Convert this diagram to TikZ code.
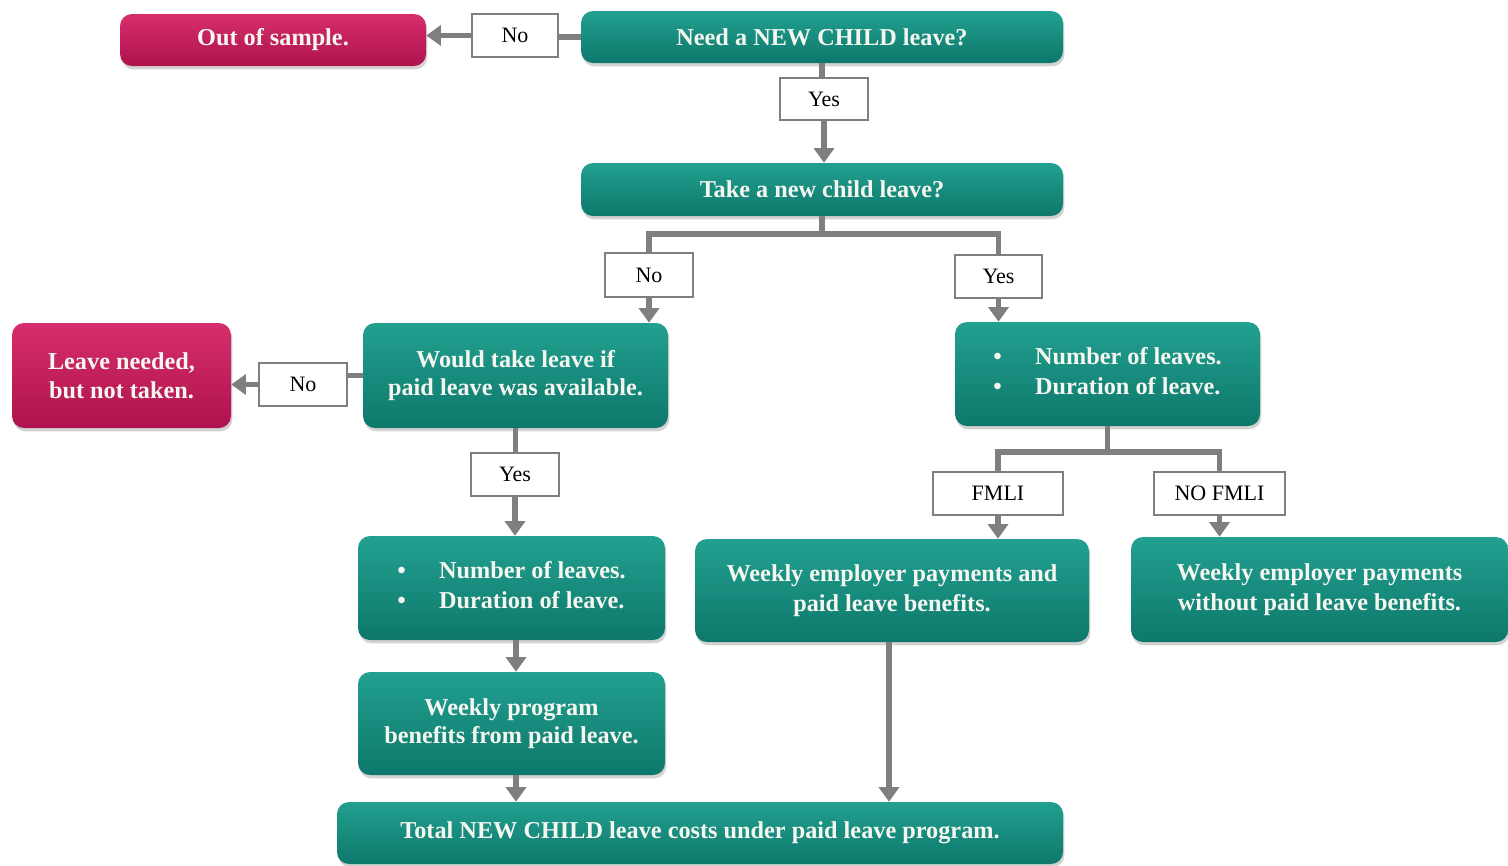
\documentclass[tikz,border=0pt]{standalone}
\usepackage{fontspec}
\setmainfont{Liberation Serif}
\usetikzlibrary{arrows.meta,shadows}
\definecolor{tealL}{HTML}{22A090}
\definecolor{tealD}{HTML}{0D786B}
\definecolor{magL}{HTML}{D62E6C}
\definecolor{magD}{HTML}{AE124C}
\definecolor{conncol}{HTML}{7F7F7F}
\definecolor{txtw}{HTML}{F6F6F0}
\tikzset{
  box/.style={rounded corners=9pt, top color=tealL, bottom color=tealD, text=txtw,
    font=\bfseries\fontsize{18.2}{21.5}\selectfont, align=center, inner sep=0pt,
    drop shadow={opacity=0.35, shadow xshift=1pt, shadow yshift=-2.5pt}},
  mbox/.style={box, top color=magL, bottom color=magD},
  lbl/.style={draw=conncol, line width=1.3pt, fill=white, font=\fontsize{16.5}{20}\selectfont, inner sep=0pt},
  conn/.style={draw=conncol, line width=4pt},
  arr/.style={conn, -{Triangle[width=15pt,length=11pt]}},
}
\newcommand{\twobullets}{\begin{tabular}{@{}l@{\hspace{25pt}}l@{}}\textbullet & Number of leaves.\\[1pt] \textbullet & Duration of leave.\end{tabular}}
\begin{document}
\begin{tikzpicture}[x=0.75pt, y=-0.75pt]
\useasboundingbox (0,0) rectangle (1508,865);
% main boxes
\node[mbox, minimum width=229.5pt, minimum height=39pt] (out) at (273,40) {Out of sample.};
\node[box, minimum width=361.5pt, minimum height=39pt] (need) at (822,37) {Need a NEW CHILD leave?};
\node[box, minimum width=361.5pt, minimum height=39.75pt] (take) at (822,189.5) {Take a new child leave?};
\node[box, minimum width=228.75pt, minimum height=78.75pt] (would) at (515.5,375.5) {Would take leave if\\paid leave was available.};
\node[mbox, minimum width=164.25pt, minimum height=78.75pt] (lnt) at (121.5,375.5) {Leave needed,\\but not taken.};
\node[box, minimum width=228.75pt, minimum height=78pt] (numR) at (1107.5,374) {\twobullets};
\node[box, minimum width=230.25pt, minimum height=78pt] (numL) at (511.5,588) {\twobullets};
\node[box, minimum width=230.25pt, minimum height=77.25pt] (wprog) at (511.5,723.5) {Weekly program\\benefits from paid leave.};
\node[box, minimum width=295.5pt, minimum height=77.25pt, font=\bfseries\fontsize{18.2}{23}\selectfont] (wemp) at (892,590.5) {Weekly employer payments and\\paid leave benefits.};
\node[box, minimum width=282.75pt, minimum height=78.75pt, font=\bfseries\fontsize{18.2}{23}\selectfont] (wwo) at (1319.5,589.5) {Weekly employer payments\\without paid leave benefits.};
\node[box, minimum width=544.5pt, minimum height=46.5pt] (total) at (700,833) {Total NEW CHILD leave costs under paid leave program.};
% labels
\node[lbl, minimum width=64.5pt, minimum height=32.25pt] (noT) at (515,35.5) {No};
\node[lbl, minimum width=66pt, minimum height=31.5pt] (yesT) at (824,99) {Yes};
\node[lbl, minimum width=66pt, minimum height=33pt] (noM) at (649,275) {No};
\node[lbl, minimum width=65.25pt, minimum height=32.25pt] (yesM) at (998.5,276.5) {Yes};
\node[lbl, minimum width=66pt, minimum height=32.25pt] (noL) at (303,384.5) {No};
\node[lbl, minimum width=66pt, minimum height=32.25pt] (yesL) at (515,474.5) {Yes};
\node[lbl, minimum width=97.5pt, minimum height=32.25pt] (fmli) at (998,493.5) {FMLI};
\node[lbl, minimum width=98.25pt, minimum height=32.25pt] (nofmli) at (1219.5,493.5) {NO FMLI};
% split points
\coordinate (split1) at (822,234);
\coordinate (split2) at (1107.5,452);
\coordinate (mid1) at (516,640);
\coordinate (mid2) at (889,642);
% connectors
\draw[conn] (need.west) -- (noT.east |- need.west);
\draw[arr] (noT.west) -- (noT.west -| out.east);
\draw[conn] (need.south) -- (need.south |- yesT.north);
\draw[arr] (yesT.south) -- (yesT.south |- take.north);
\draw[conn] (take.south) -- (split1);
\draw[conn] (split1) -| (noM.north);
\draw[conn] (split1) -| (yesM.north);
\draw[arr] (noM.south) -- (noM.south |- would.north);
\draw[arr] (yesM.south) -- (yesM.south |- numR.north);
\draw[conn] (would.west) -- (noL.east |- would.west);
\draw[arr] (noL.west) -- (noL.west -| lnt.east);
\draw[conn] (would.south) -- (would.south |- yesL.north);
\draw[arr] (yesL.south) -- (yesL.south |- numL.north);
\draw[arr] (mid1) -- (mid1 |- wprog.north);
\draw[arr] (mid1 |- wprog.south) -- (mid1 |- total.north);
\draw[conn] (numR.south) -- (split2);
\draw[conn] (split2) -| (fmli.north);
\draw[conn] (split2) -| (nofmli.north);
\draw[arr] (fmli.south) -- (fmli.south |- wemp.north);
\draw[arr] (nofmli.south) -- (nofmli.south |- wwo.north);
\draw[arr] (mid2) -- (mid2 |- total.north);
\end{tikzpicture}
\end{document}
